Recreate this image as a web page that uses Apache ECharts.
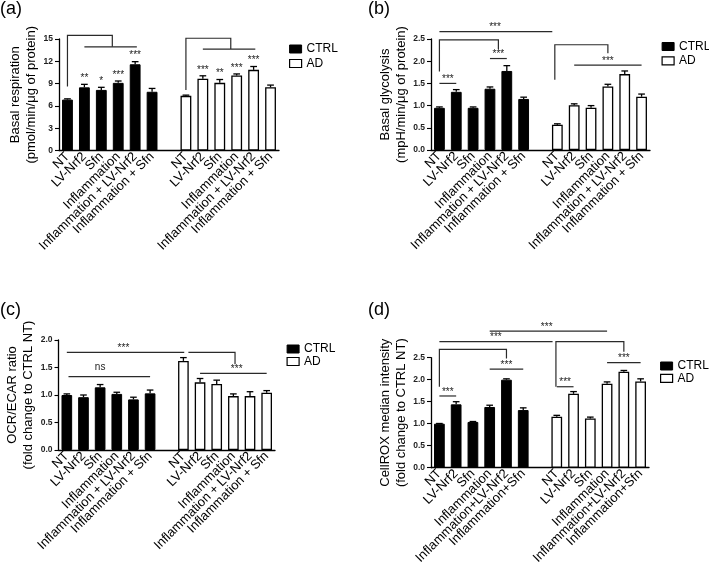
<!DOCTYPE html>
<html><head><meta charset="utf-8">
<script src="https://cdn.jsdelivr.net/npm/echarts@6/dist/echarts.min.js"></script>
<style>html,body{margin:0;padding:0;background:#fff}#c{width:709px;height:577px}</style>
</head><body><div id="c"></div>
<script>
// ---------- data ----------
const groupsABC = ['NT','LV-Nrf2','Sfn','Inflammation','Inflammation + LV-Nrf2','Inflammation + Sfn'];
const groupsD = ['NT','LV-Nrf2','Sfn','Inflammation','Inflammation+LV-Nrf2','Inflammation+Sfn'];

// (a) Basal respiration
const aCtrl = [6.85, 8.5, 8.15, 9.1, 11.6, 7.9];
const aCtrlErr = [0.1, 0.4, 0.35, 0.25, 0.35, 0.45];
const aAd = [7.35, 9.65, 9.1, 10.1, 10.85, 8.5];
const aAdErr = [0.1, 0.4, 0.45, 0.2, 0.45, 0.3];
const aCtrlSig = ['', '**', '*', '***', '***', ''];
const aAdSig = ['', '***', '**', '***', '***', ''];
const aTicks = [0, 3, 6, 9, 12, 15];
const aLines = [
  [[0, 8.6], [0, 15.5], [2.65, 15.5], [2.65, 13.95]],
  [[1, 13.95], [4.1, 13.95]],
  [[7, 8.15], [7, 15.1], [9.65, 15.1], [9.65, 13.65]],
  [[8, 13.65], [11.1, 13.65]]
];
const aTexts = [];

// (b) Basal glycolysis
const bCtrl = [0.95, 1.31, 0.95, 1.38, 1.78, 1.15];
const bCtrlErr = [0.02, 0.05, 0.02, 0.04, 0.12, 0.04];
const bAd = [0.57, 1.01, 0.95, 1.43, 1.71, 1.2];
const bAdErr = [0.02, 0.03, 0.05, 0.05, 0.07, 0.06];
const bTicks = [0, 0.5, 1.0, 1.5, 2.0, 2.5];
const bLines = [
  [[0, 2.665], [6.7, 2.665]],
  [[0, 1.77], [0, 2.48], [3.5, 2.48], [3.5, 2.27]],
  [[3, 2.06], [4, 2.06]],
  [[0, 1.5], [1, 1.5]],
  [[6.85, 1.58], [6.85, 2.37], [10, 2.37], [10, 2.18]],
  [[8, 1.91], [12, 1.91]]
];
const bTexts = [[3.3, 2.665, '***'], [3.5, 2.06, '***'], [0.5, 1.5, '***'], [10, 1.91, '***']];

// (c) OCR/ECAR ratio
const cCtrl = [1.0, 0.96, 1.14, 1.02, 0.92, 1.03];
const cCtrlErr = [0.02, 0.04, 0.05, 0.03, 0.04, 0.06];
const cAd = [1.62, 1.23, 1.2, 0.98, 0.98, 1.04];
const cAdErr = [0.06, 0.07, 0.07, 0.04, 0.08, 0.04];
const cTicks = [0, 0.5, 1.0, 1.5, 2.0];
const cLines = [
  [[0, 1.776], [7.05, 1.776]],
  [[7.3, 1.776], [10.1, 1.776], [10.1, 1.56]],
  [[8, 1.394], [12, 1.394]],
  [[0.1, 1.333], [5, 1.333]]
];
const cTexts = [[3.4, 1.776, '***'], [10.2, 1.394, '***'], [2.0, 1.333, 'ns']];

// (d) CellROX median intensity
const dCtrl = [1.0, 1.44, 1.04, 1.38, 2.0, 1.31];
const dCtrlErr = [0.005, 0.06, 0.01, 0.04, 0.02, 0.05];
const dAd = [1.16, 1.68, 1.12, 1.91, 2.18, 1.96];
const dAdErr = [0.03, 0.05, 0.03, 0.04, 0.03, 0.06];
const dTicks = [0, 0.5, 1.0, 1.5, 2.0, 2.5];
const dLines = [
  [[3, 3.106], [10, 3.106]],
  [[0, 2.864], [6.75, 2.864]],
  [[0, 1.84], [0, 2.69], [4, 2.69], [4, 2.48]],
  [[3, 2.24], [5, 2.24]],
  [[0, 1.63], [1, 1.63]],
  [[6.95, 1.84], [6.95, 2.864], [11, 2.864], [11, 2.636]],
  [[10, 2.39], [12, 2.39]],
  [[7, 1.84], [8, 1.84]]
];
const dTexts = [[6.4, 3.106, '***'], [3.37, 2.864, '***'], [4, 2.24, '***'], [0.5, 1.63, '***'], [11, 2.39, '***'], [7.5, 1.84, '***']];

// ---------- chart ----------
const FONT = '"Liberation Sans", Arial, Helvetica, sans-serif';
const chart = echarts.init(document.getElementById('c'), null, {renderer: 'canvas'});

const panels = [
  {title:'(a)', tl:[0,0], grid:{left:59, top:39, width:220, height:111.5}, cats:groupsABC,
   ctrl:aCtrl, ctrlErr:aCtrlErr, ad:aAd, adErr:aAdErr, ctrlSig:aCtrlSig, adSig:aAdSig,
   ticks:aTicks, dec:0, name:'Basal respiration\n(pmol/min/μg of protein)', gap:17,
   lines:aLines, texts:aTexts, legend:{left:289, top:43, itemGap:2.5}},
  {title:'(b)', tl:[368,0], grid:{left:431, top:39, width:219, height:111}, cats:groupsABC,
   ctrl:bCtrl, ctrlErr:bCtrlErr, ad:bAd, adErr:bAdErr, ctrlSig:null, adSig:null,
   ticks:bTicks, dec:1, name:'Basal glycolysis\n(mpH/min/μg of protein)', gap:21,
   lines:bLines, texts:bTexts, legend:{left:661.5, top:40.5, itemGap:2.3}},
  {title:'(c)', tl:[0,301], grid:{left:58.5, top:340, width:216.5, height:110}, cats:groupsABC,
   ctrl:cCtrl, ctrlErr:cCtrlErr, ad:cAd, adErr:cAdErr, ctrlSig:null, adSig:null,
   ticks:cTicks, dec:1, name:'OCR/ECAR ratio\n(fold change to CTRL NT)', gap:13,
   lines:cLines, texts:cTexts, legend:{left:286.5, top:343, itemGap:0.5}},
  {title:'(d)', tl:[368,301], grid:{left:431, top:357.7, width:218, height:110}, cats:groupsD,
   ctrl:dCtrl, ctrlErr:dCtrlErr, ad:dAd, adErr:dAdErr, ctrlSig:null, adSig:null,
   ticks:dTicks, dec:1, name:'CellROX median intensity\n(fold change to CTRL NT)', gap:16,
   lines:dLines, texts:dTexts, legend:{left:660, top:360, itemGap:0.3}}
];

const option = {animation:false, backgroundColor:'#fff', title:[], grid:[], xAxis:[], yAxis:[], legend:[], series:[]};

panels.forEach((p, i) => {
  const n = p.cats.length;
  const labels = [...p.cats, '', ...p.cats];
  const keys = labels.map((_, k) => 'k' + k);
  option.title.push({text:p.title, left:p.tl[0], top:p.tl[1], padding:0,
    textStyle:{fontSize:18, fontWeight:'normal', color:'#000', fontFamily:FONT}});
  option.grid.push(Object.assign({containLabel:false}, p.grid));
  option.xAxis.push({type:'category', gridIndex:i, data:keys,
    axisLine:{lineStyle:{color:'#000', width:1.3}},
    axisTick:{alignWithLabel:true, length:4, lineStyle:{color:'#000', width:1.1}},
    axisLabel:{interval:0, rotate:45, margin:4, fontSize:13, color:'#000', fontFamily:FONT,
      formatter:(v, idx) => labels[idx]}});
  const step = p.ticks[1] - p.ticks[0];
  option.yAxis.push({type:'value', gridIndex:i, min:p.ticks[0], max:p.ticks[p.ticks.length-1], interval:step,
    name:p.name, nameLocation:'middle', nameRotate:90, nameGap:p.gap,
    nameTextStyle:{fontSize:13, lineHeight:16, color:'#000', fontFamily:FONT},
    axisLine:{show:true, lineStyle:{color:'#000', width:1.3}},
    axisTick:{show:true, length:4, lineStyle:{color:'#000', width:1.1}},
    axisLabel:{fontSize:8.5, fontWeight:'bold', color:'#222', margin:6, fontFamily:FONT,
      formatter:v => v.toFixed(p.dec)},
    splitLine:{show:false}});
  option.legend.push({orient:'vertical', left:p.legend.left, top:p.legend.top, itemGap:p.legend.itemGap,
    padding:0, itemWidth:12, itemHeight:8, icon:'rect',
    textStyle:{fontSize:12, lineHeight:12, color:'#000', fontFamily:FONT},
    data:[{name:'CTRL', itemStyle:{color:'#000', borderColor:'#000', borderWidth:1}},
          {name:'AD', itemStyle:{color:'#fff', borderColor:'#000', borderWidth:1.2}}]});

  const ctrlData = keys.map((_, k) => k < n ? p.ctrl[k] : '-');
  const adData = keys.map((_, k) => k > n ? p.ad[k - n - 1] : '-');
  option.series.push({type:'bar', name:'CTRL', xAxisIndex:i, yAxisIndex:i, data:ctrlData,
    barWidth:'64%', barGap:'-100%', itemStyle:{color:'#000', borderColor:'#000', borderWidth:1}});
  option.series.push({type:'bar', name:'AD', xAxisIndex:i, yAxisIndex:i, data:adData,
    barWidth:'64%', barGap:'-100%', itemStyle:{color:'#fff', borderColor:'#000', borderWidth:1.3}});

  // error bars (+ per-bar significance)
  const errData = [];
  const sigs = [];
  p.ctrl.forEach((v, k) => { errData.push([k, v, p.ctrlErr[k]]); sigs.push(p.ctrlSig ? p.ctrlSig[k] : ''); });
  p.ad.forEach((v, k) => { errData.push([k + n + 1, v, p.adErr[k]]); sigs.push(p.adSig ? p.adSig[k] : ''); });
  option.series.push({type:'custom', xAxisIndex:i, yAxisIndex:i, data:errData, z:5,
    encode:{x:0, y:1},
    renderItem:(params, api) => {
      const x = api.value(0), v = api.value(1), e = api.value(2);
      const base = api.coord([x, v]), top = api.coord([x, v + e]);
      const bw = api.size([1, 0])[0] * 0.64;
      const cap = bw * 0.62;
      const st = {stroke:'#000', lineWidth:1.3};
      const ch = [
        {type:'line', shape:{x1:base[0], y1:base[1], x2:top[0], y2:top[1]}, style:st},
        {type:'line', shape:{x1:top[0]-cap/2, y1:top[1], x2:top[0]+cap/2, y2:top[1]}, style:st}
      ];
      const s = sigs[params.dataIndex];
      if (s) ch.push({type:'text', x:top[0], y:top[1]-1,
        style:{text:s, fontSize:10, fill:'#222', align:'center', verticalAlign:'bottom', fontFamily:FONT}});
      return {type:'group', children:ch};
    }});

  // comparison brackets / lines
  option.series.push({type:'custom', xAxisIndex:i, yAxisIndex:i, data:[[0, 0]], z:6,
    encode:{x:0, y:1},
    renderItem:(params, api) => {
      const c0 = api.coord([0, 0]), c1 = api.coord([1, 0]);
      const px = t => c0[0] + t * (c1[0] - c0[0]);
      const py = v => api.coord([0, v])[1];
      const ch = [];
      p.lines.forEach(l => {
        ch.push({type:'polyline', shape:{points:l.map(q => [px(q[0]), py(q[1])])},
          style:{stroke:'#2a2a2a', lineWidth:1.2, fill:null}});
      });
      p.texts.forEach(t => {
        const off = t[2] === 'ns' ? -4 : 1;
        ch.push({type:'text', x:px(t[0]), y:py(t[1]) + off,
          style:{text:t[2], fontSize:10, fill:'#222', align:'center', verticalAlign:'bottom', fontFamily:FONT}});
      });
      return {type:'group', children:ch};
    }});
});

chart.setOption(option);
</script>
</body></html>
